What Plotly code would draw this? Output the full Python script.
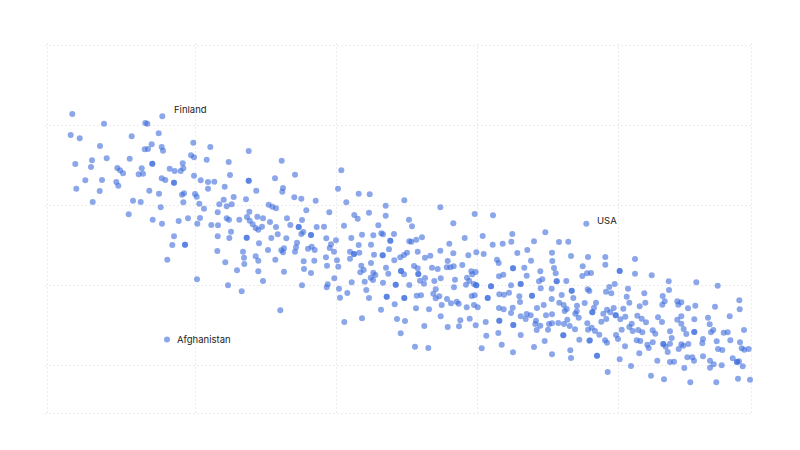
import plotly.graph_objects as go

# values, axis has no labels so units are arbitrary
x_vals = [
    72.3, 104, 145.3, 147.3, 70.7, 79.7, 131.7, 158.7, 100, 151.7, 144.7, 148, 161.7, 163, 193.3, 210.3,
    75.3, 92, 91, 106.7, 129.7, 152.3, 152.3, 117.3, 120, 123, 141.7, 138.7, 143, 169.7, 174.7, 180.7,
    183.3, 182.7, 191, 194, 206.7, 228.7, 85.3, 102, 116.3, 118.3, 161.7, 165.3, 174, 174, 194, 200.7,
    208, 214.3, 230, 76.3, 99.7, 149.3, 159, 182, 184, 195, 196.7, 208, 224.7, 92.7, 133, 140.7,
    183.3, 199.3, 223.7, 219.3, 226.7, 160.7, 204,
    128.7, 152.7, 162, 178.7, 188, 200, 197.3, 217.7, 226.7, 229, 211.3, 218, 174, 217.7, 229.3,
    172.3, 185, 185, 217.3, 167.3, 225.3, 197, 228,
    248.7, 281.7, 275, 295, 341.3, 248.7, 248.7, 283, 282.3, 256.3, 338, 358.7, 369.7, 233.7, 246, 294.3,
    301.3, 315.7, 346.3, 404.3, 231.7, 268.7, 272.3, 276, 306.3, 385.7, 249.3, 329.3, 369, 354.3, 357.7, 385.7,
    239.3, 247, 249.7, 257.3, 263, 270, 287, 302, 252.7, 255.7, 258.3, 262, 276, 290.3, 298.7, 298.7,
    316.7, 324, 344, 378.3, 409, 231, 277.7, 303.3, 301.3, 311, 311, 362, 373.3, 381.3, 383, 394,
    246.7, 246.7, 271.3, 286.3, 326.3, 336, 351.3, 390.3, 390.3, 259, 297, 331, 358.7, 371, 409.3, 296,
    311.7, 308, 314.7, 329.7, 243, 268, 281.3, 284, 283, 295, 334, 350, 354, 354, 359.3, 374,
    382.7, 382.7, 389, 407, 404, 400.3, 244, 255.7, 326, 350, 275.3,
    244.3, 258.3, 303.7, 314.3, 337, 371, 394.3, 327, 338.3, 361.3, 386, 237, 258.3, 284, 304, 311,
    363.7, 360.3, 373.3, 375.3, 388.3, 401, 401, 404, 334.3, 370.7, 373, 263, 351.7, 364.7, 383, 302,
    327.7, 326.7, 395.7, 395.7, 409.3, 339, 366.3, 241.7, 347.3, 340, 369, 386.7, 386.7, 404.3, 404.3, 394.7,
    381, 280.3, 362, 397, 344.3, 405, 400.7,
    440.3, 474.7, 493, 412, 453.3, 482.7, 512.3, 545.3, 464.7, 422, 416.3, 411.3, 449.3, 492.7, 502.7, 511.3,
    534, 559, 568.3, 417.7, 440.3, 453.3, 476.3, 483.7, 517.3, 527.3, 552, 425, 430.3, 468.3, 571, 588,
    447.7, 497, 498.7, 531, 552.3, 414, 417.7, 432, 437.7, 446.7, 450.3, 453.7, 462.3, 513, 513, 524.3,
    554, 582.7, 418.3, 418.3, 471.3, 475.7, 472.3, 499, 503.3, 526.7, 540.3, 555.7, 582.3, 587, 425, 420,
    424, 434.3, 440.7, 455, 467, 469.3, 466, 474, 476.3, 476.3, 539, 542.3, 556.7, 556.7, 566.3, 520.7,
    520.7, 511, 491, 491, 454, 540.7, 551.7, 571.7, 571.7, 587.7, 435.7, 433.3, 499.3, 504, 509, 519.3,
    532, 532, 561.7, 573.3, 416.7, 421, 435.7, 439.3, 471.7, 474.7, 487.7, 487.7, 447, 520, 551.7, 559.3,
    456.7, 458.7, 451, 441.7, 474, 477.7, 466.7, 543.7, 563.7, 577, 584.7, 416, 429, 499, 503.7, 512.7,
    537, 566.7,
    511, 564.7, 576.7, 575.3, 578.7, 440.7, 469.7, 460.3, 520.7, 526.7, 530.7, 525.7, 536, 546, 552, 485.7,
    499.3, 499.3, 513.3, 513.3, 535.3, 540.3, 549, 552, 558.3, 564, 567.3, 569.7, 587.3, 424.3, 447.7, 459,
    475.7, 536.7, 548, 575, 588, 498.3, 486.3, 520.7, 563.3, 563.3, 544.7, 579.3, 589.3, 501.7, 415, 428.3,
    481.7, 534, 513, 552, 570.3, 571,
    605.3, 605.3, 635, 619.7, 619.7, 591, 635, 651.7, 668.7, 696.3, 717.7, 614.7, 609.3, 589.3, 606, 611.3,
    628, 669, 644.3, 626.7, 662.7, 596, 629.3, 645.3, 664.7, 662.3, 677.3, 681.3, 678.3, 739.3, 594, 639.7,
    695.3, 715, 688, 613.7, 607, 623.3, 739.7, 592.3, 592.3, 603.3, 610.3, 615.7, 615.7, 625.3, 637.3, 641.7,
    658, 681.3, 677.3, 694.3, 708, 729.7, 606.3, 620.3,
    646, 662, 681.3, 709.7, 601.3, 631.7, 591.7, 595, 629.3, 621.7, 632.7, 638.3, 642.3, 652.7, 655.3, 670,
    683.7, 686.3, 694.3, 694.3, 711, 713.3, 723.7, 727.7, 744, 599.3, 616, 618, 590, 605, 607, 636.7,
    640.3, 671.7, 670, 652.7, 647.3, 648.7, 663.3, 663.3, 665.7, 625, 681.3, 678.7, 683.3, 688.3, 703, 702.3,
    716.7, 730.3, 740, 741.7, 744.3, 748.7, 718, 722.3, 667.7, 639.3, 597, 597, 619.7, 657.3, 670, 674,
    687.3, 692.3, 694, 703, 710, 713.7, 710, 721.7, 732.7, 737, 737, 739, 742.7, 631, 684.3, 607.7,
    651, 664, 690.3, 716.3, 738, 750,
]
y_vals = [
    114, 123.7, 123, 123.7, 135, 138.3, 136.3, 133.3, 146, 144.3, 149.3, 149, 147, 150.7, 142.7, 147,
    164, 160.3, 167, 158.3, 158.7, 163.7, 163.7, 168, 170.3, 173.3, 168.3, 174.3, 173.7, 168.7, 171, 171,
    168.3, 163.3, 155.3, 157.3, 159.7, 162, 180.3, 180, 182, 185.7, 178.3, 180, 182.7, 182.7, 175.7, 180.3,
    182, 181.7, 175, 188.7, 191, 190.7, 193.7, 194.7, 193.3, 194, 196.7, 188.7, 186.7, 202, 200.7, 202,
    202.3, 203.7, 199.7, 204.3, 206.3, 207.3, 208.7,
    214.3, 219.7, 223.7, 221, 218.3, 218, 223.7, 212.3, 218.3, 219.7, 225, 225.3, 236.3, 236.3, 238,
    245, 244.7, 244.7, 251, 259.7, 262.3, 279.3, 285.3,
    151, 160.7, 178.3, 174.7, 170.3, 180.7, 180.7, 188, 191.7, 190.7, 188.7, 193.7, 194.3, 197, 199.3, 197.3,
    198.7, 200.7, 202.3, 200.3, 204.3, 204.7, 206.7, 208.3, 210.3, 205.7, 211.7, 212.3, 212.7, 215, 218.7, 215.7,
    219.7, 217, 220.7, 216.7, 218.3, 222, 218.3, 220, 224.3, 228, 229.7, 226.7, 227, 225, 227, 227,
    227, 226.7, 225.7, 225.3, 219.7, 231.7, 234.3, 232, 234, 235, 235, 234.7, 235.3, 233.3, 234.3, 234,
    237.7, 237.7, 238, 238.3, 238.3, 240.3, 238, 240.7, 240.7, 243.3, 242.7, 244.3, 245, 244.7, 241.3, 247.3,
    246.7, 248.7, 250, 248, 251.7, 250, 250.3, 248.3, 252.3, 251.7, 251.7, 251.7, 254, 254, 252.7, 254.7,
    255.3, 255.3, 249.3, 252.7, 255, 257.3, 257.7, 256.3, 257.3, 258.7, 259.7,
    264, 260.7, 261.3, 260.7, 260.3, 263, 260.3, 265.7, 266.7, 265.7, 267.7, 270.3, 271.3, 271.7, 269, 273,
    270, 272.3, 272.7, 275, 273.7, 271, 271, 274.3, 278.3, 277.7, 280, 281, 282.3, 281.7, 282.7, 285.3,
    284.3, 287.3, 284.7, 284.7, 285, 288.7, 290, 291.3, 293, 297.7, 298, 296.7, 296.7, 298, 298, 304.3,
    309.7, 310.3, 318.3, 319, 322, 321, 333.3,
    207.3, 214, 215.3, 226.3, 223.3, 236, 234, 232.3, 238, 237.3, 239.7, 241.7, 243.7, 244.7, 243.7, 241.7,
    241.3, 242, 241.7, 251.7, 250.7, 253.3, 252.3, 254, 253, 250, 252.7, 257.7, 255.7, 255.3, 256, 257,
    261, 259.7, 263, 260.7, 261, 266, 268.3, 267.7, 269, 267.3, 267.3, 266.3, 265, 268.3, 268.3, 267.7,
    268, 266.3, 274, 274, 271.3, 272, 274.3, 276.3, 274.7, 275.7, 271.3, 273.3, 276, 273.3, 278, 280.7,
    283.7, 281, 278.3, 279.7, 277.7, 281, 284.7, 284, 285.3, 285.3, 281.3, 279.3, 281.3, 281.3, 281, 284,
    284, 285.3, 286.3, 286.3, 287.3, 288.3, 288.7, 290.7, 290.7, 289.3, 289.3, 293.7, 294.3, 294.7, 292.7, 296.3,
    295.7, 295.7, 295, 298, 295.7, 295.3, 298.3, 296.3, 296, 295.3, 298, 298, 299, 302, 299, 302.7,
    301.7, 303.7, 303.3, 305, 305, 307.3, 307.3, 305, 305, 305.7, 303, 308.3, 309.3, 308, 309.3, 307.7,
    308, 309,
    313, 311, 311.3, 313.7, 317.7, 316.3, 318.7, 320.3, 316.3, 314, 315.3, 319, 320.7, 315.3, 314.3, 322,
    320.7, 320.7, 325, 325, 324, 325.7, 324, 323.3, 323, 324, 319.7, 326, 323.3, 326, 327, 326.3,
    325.3, 330, 329.7, 329.3, 329.7, 333, 335.7, 335, 335.3, 335.3, 341, 339.7, 340.7, 344.7, 346.7, 348,
    348.3, 347, 352.3, 354.3, 350.3, 358,
    257, 264.7, 259, 271, 271, 273, 273.7, 275.3, 281.3, 282.3, 285.7, 284, 287, 291, 291.7, 293.3,
    288.7, 290, 293.3, 296.7, 296, 302.7, 302.7, 302.7, 301.3, 304.7, 301.3, 302.3, 304.7, 300.3, 307.7, 306.3,
    305.7, 306.7, 308.3, 308, 309.7, 308.7, 309.3, 312.3, 312.3, 313.7, 312.3, 315.3, 315.3, 316.7, 315.7, 318.7,
    317.3, 316.3, 319.7, 319.3, 317.7, 316.3, 319, 319.3,
    322.3, 322, 323.7, 324.3, 321.7, 323.7, 327.7, 331, 327, 329.7, 331, 330, 332.3, 330.3, 333.7, 331.3,
    329, 334, 332, 332, 332.3, 330, 332.7, 332.3, 330, 334.7, 335, 339, 340.3, 340.3, 342.7, 340.3,
    341, 338, 343.7, 342.3, 344.7, 348, 344, 344, 346.7, 346.3, 344.3, 349, 345.7, 344, 339, 343.3,
    341.3, 340.3, 342.3, 348.3, 349.7, 349, 349, 350, 352, 353.3, 355.7, 355.7, 359.3, 360.7, 362, 361.7,
    357.3, 357.3, 360.7, 356.3, 360.7, 364.3, 367.7, 365.3, 358.3, 362, 362, 361.3, 366.3, 366, 368, 372,
    375.7, 379.3, 382.3, 382.3, 378.7, 379.7,
]

country_names = ["Finland", "USA", "Afghanistan"]
country_x = [162.3, 586.3, 167]
country_y = [116.3, 223.7, 339.5]

x_grid = [47, 195, 336, 477, 618, 751]
y_grid = [45, 125, 205, 285, 365, 413]

dot_color = "rgba(62,108,220,0.6)"

fig = go.Figure()
fig.add_trace(go.Scatter(
    x=x_vals,
    y=y_vals,
    mode="markers",
    marker=dict(size=6, color=dot_color),
    hoverinfo="skip",
))
fig.add_trace(go.Scatter(
    x=country_x,
    y=country_y,
    mode="markers",
    marker=dict(size=6, color=dot_color),
    text=country_names,
    hoverinfo="text",
))

for name, cx, cy, dx, dy in zip(country_names, country_x, country_y, [10, 9, 8], [7, 3, 0]):
    fig.add_annotation(
        x=cx, y=cy, text=name, showarrow=False,
        xanchor="left", yanchor="middle", xshift=dx, yshift=dy,
        font=dict(family="Inter, sans-serif", size=9.5, color="#222"),
    )

axis_style = dict(
    showgrid=True,
    gridcolor="#ececec",
    griddash="2px,2px",
    gridwidth=1,
    zeroline=False,
    showline=False,
    showticklabels=False,
    ticks="",
)
# range runs 2 units past the outer grid lines, plotly drops grid lines sitting on the edge
fig.update_xaxes(range=[45, 753], tickvals=x_grid, **axis_style)
fig.update_yaxes(range=[415, 43], tickvals=y_grid, **axis_style)

# page body has an 8px margin, so the figure starts at (8, 8)
fig.update_layout(
    width=784,
    height=434,
    margin=dict(l=37, r=39, t=35, b=27),
    paper_bgcolor="white",
    plot_bgcolor="white",
    showlegend=False,
)

fig.write_html("out.html")
